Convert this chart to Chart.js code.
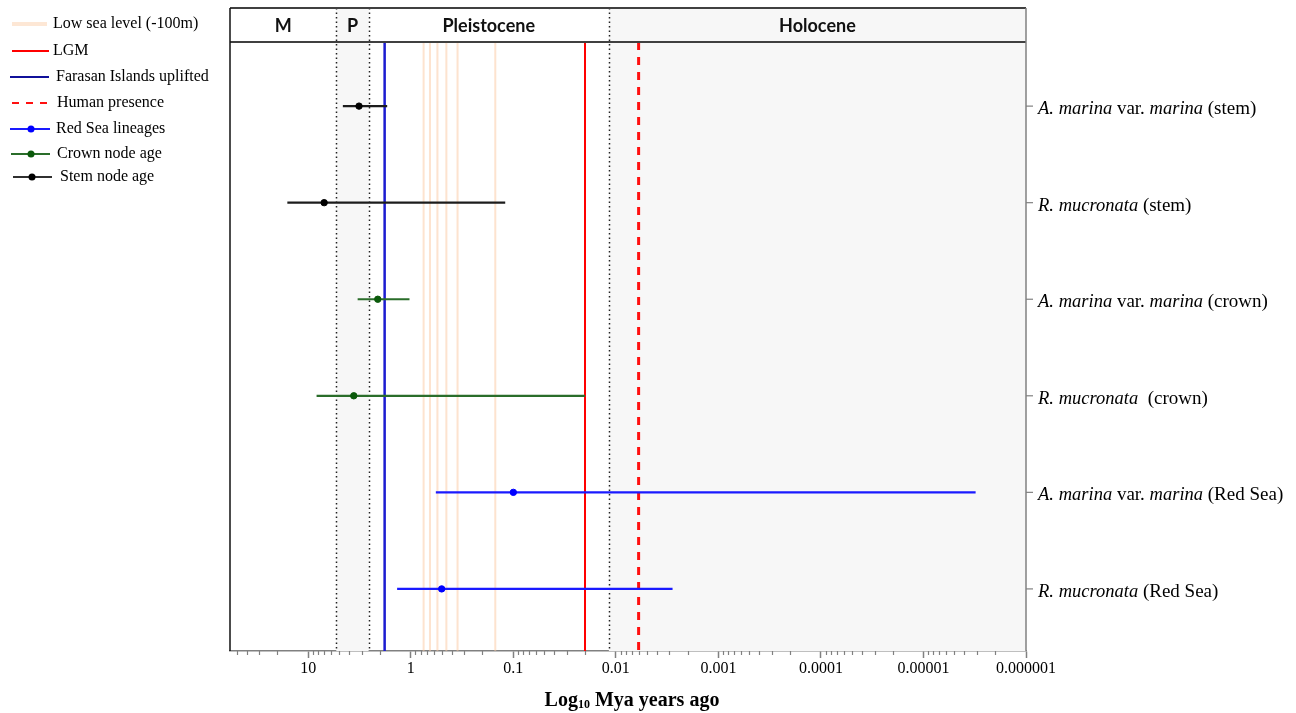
<!DOCTYPE html>
<html>
<head>
<meta charset="utf-8">
<script src="https://cdn.jsdelivr.net/npm/chart.js@4.4.1/dist/chart.umd.min.js"></script>
<style>
  html, body { margin: 0; padding: 0; background: #fff; }
</style>
</head>
<body>
<canvas id="chart" width="1296" height="713"></canvas>
<script>
(function () {
  'use strict';

  // rows, top to bottom
  var ROW_LABELS = [
    'A. marina var. marina (stem)',
    'R. mucronata (stem)',
    'A. marina var. marina (crown)',
    'R. mucronata  (crown)',
    'A. marina var. marina (Red Sea)',
    'R. mucronata (Red Sea)'
  ];
  var ROW_GROUP = ['stem', 'stem', 'crown', 'crown', 'redsea', 'redsea'];
  var ITALIC_WORDS = ['A.', 'R.', 'marina', 'mucronata'];

  // ages in Mya (mean, older bound, younger bound)
  var AGE_MEAN = [3.2, 7.0, 2.1, 3.6, 0.1, 0.5];
  var AGE_OLD = [4.6, 16, 3.3, 8.3, 0.57, 1.36];
  var AGE_YOUNG = [1.7, 0.12, 1.03, 0.02, 0.0000031, 0.0028];

  // events (Mya)
  var LOW_SEA = [0.75, 0.65, 0.55, 0.45, 0.35, 0.15];
  var LGM = 0.02;
  var FARASAN = 1.8;
  var HUMAN = 0.006;

  var EPOCHS = ['M', 'P', 'Pleistocene', 'Holocene'];
  var EPOCH_BOUNDS = [58, 5.33, 2.58, 0.0117, 0.000001];
  var SHADED_EPOCHS = ['P', 'Holocene'];

  var TICK_VALUES = [10, 1, 0.1, 0.01, 0.001, 0.0001, 0.00001, 0.000001];
  var TICK_LABELS = ['10', '1', '0.1', '0.01', '0.001', '0.0001', '0.00001', '0.000001'];

  var LEGEND_LABELS = [
    'Low sea level (-100m)', 'LGM', 'Farasan Islands uplifted', 'Human presence',
    'Red Sea lineages', 'Crown node age', 'Stem node age'
  ];

  var X_MIN = 0.000001, X_MAX = 58;
  var Y_MIN = 0.336, Y_MAX = 6.643;
  var HEADER_TOP = 8;

  var COLORS = {
    stem: { line: '#1c1c1c', dot: '#000000' },
    crown: { line: '#2a6d2a', dot: '#0b5a0b' },
    redsea: { line: '#1a1aff', dot: '#0000ff' },
    lowSea: 'rgba(251, 200, 160, 0.5)',
    lgm: '#ff0000',
    farasan: '#1c1cd0',
    human: '#ff1010',
    shade: '#f7f7f7',
    frame: '#404040'
  };

  var SERIF = '"Liberation Serif", "Times New Roman", serif';

  function vline(x, color, width, dash, order) {
    return {
      data: [{ x: x, y: Y_MIN }, { x: x, y: Y_MAX }],
      showLine: true, borderColor: color, borderWidth: width,
      borderDash: dash || [], pointRadius: 0, order: order
    };
  }

  var datasets = [];
  LOW_SEA.forEach(function (v) { datasets.push(vline(v, COLORS.lowSea, 2, null, 4)); });
  datasets.push(vline(FARASAN, COLORS.farasan, 2.5, null, 3));
  datasets.push(vline(LGM, COLORS.lgm, 2, null, 3));
  datasets.push(vline(HUMAN, COLORS.human, 3, [8, 7], 3));

  ROW_LABELS.forEach(function (_, i) {
    var c = COLORS[ROW_GROUP[i]];
    datasets.push({
      data: [{ x: AGE_OLD[i], y: i + 1 }, { x: AGE_YOUNG[i], y: i + 1 }],
      showLine: true, borderColor: c.line, borderWidth: 2.2, pointRadius: 0, order: 1
    });
  });
  datasets.push({
    data: AGE_MEAN.map(function (v, i) { return { x: v, y: i + 1 }; }),
    showLine: false,
    pointRadius: 3.2,
    pointBackgroundColor: ROW_GROUP.map(function (g) { return COLORS[g].dot; }),
    pointBorderColor: ROW_GROUP.map(function (g) { return COLORS[g].dot; }),
    order: 0
  });

  function drawRowLabel(ctx, text, x, y) {
    text.split(/( +)/).forEach(function (t) {
      if (!t) return;
      var it = ITALIC_WORDS.indexOf(t) >= 0;
      ctx.font = (it ? 'italic 18.5px ' : '19px ') + SERIF;
      ctx.fillText(t, x, y);
      x += ctx.measureText(t).width;
    });
  }

  function drawLegendSample(ctx, i, y) {
    ctx.save();
    ctx.lineCap = 'butt';
    function seg(x0, x1, color, w, dash) {
      ctx.strokeStyle = color; ctx.lineWidth = w; ctx.setLineDash(dash || []);
      ctx.beginPath(); ctx.moveTo(x0, y); ctx.lineTo(x1, y); ctx.stroke();
    }
    function dot(x, color) {
      ctx.fillStyle = color; ctx.beginPath(); ctx.arc(x, y, 3.5, 0, Math.PI * 2); ctx.fill();
    }
    if (i === 0) seg(12, 47, 'rgba(251, 215, 185, 0.6)', 4);
    if (i === 1) seg(12, 49, COLORS.lgm, 2);
    if (i === 2) seg(10, 49, '#10109a', 2.2);
    if (i === 3) seg(12, 47, COLORS.human, 2, [7, 7]);
    if (i === 4) { seg(10, 50, COLORS.redsea.line, 2); dot(31, COLORS.redsea.dot); }
    if (i === 5) { seg(11, 50, COLORS.crown.line, 2); dot(31, COLORS.crown.dot); }
    if (i === 6) { seg(13, 52, '#303030', 2); dot(32, COLORS.stem.dot); }
    ctx.restore();
  }

  var LEGEND_Y = [24, 51, 77, 103, 129, 154, 177];
  var LEGEND_TX = [53, 53, 56, 57, 56, 57, 60];

  var decorPlugin = {
    id: 'decor',
    beforeDatasetsDraw: function (chart) {
      var ctx = chart.ctx, a = chart.chartArea, xs = chart.scales.x;
      ctx.save();
      // shaded epochs
      EPOCHS.forEach(function (name, i) {
        if (SHADED_EPOCHS.indexOf(name) < 0) return;
        var x0 = xs.getPixelForValue(EPOCH_BOUNDS[i]);
        var x1 = xs.getPixelForValue(EPOCH_BOUNDS[i + 1]);
        ctx.fillStyle = COLORS.shade;
        ctx.fillRect(Math.min(x0, x1), HEADER_TOP, Math.abs(x1 - x0), a.bottom - HEADER_TOP);
      });
      // epoch boundaries, dotted
      ctx.strokeStyle = '#222';
      ctx.lineWidth = 1.5;
      ctx.setLineDash([1.5, 3]);
      for (var i = 1; i < EPOCH_BOUNDS.length - 1; i++) {
        var x = Math.round(xs.getPixelForValue(EPOCH_BOUNDS[i])) + 0.5;
        ctx.beginPath(); ctx.moveTo(x, HEADER_TOP); ctx.lineTo(x, a.bottom); ctx.stroke();
      }
      ctx.restore();
    },
    afterDraw: function (chart) {
      var ctx = chart.ctx, a = chart.chartArea, xs = chart.scales.x, ys = chart.scales.y;
      ctx.save();

      // header text
      ctx.fillStyle = '#111';
      ctx.font = 'bold 18px Lato, "Liberation Sans", sans-serif';
      ctx.textAlign = 'center';
      ctx.textBaseline = 'middle';
      EPOCHS.forEach(function (name, i) {
        var x0 = xs.getPixelForValue(EPOCH_BOUNDS[i]);
        var x1 = xs.getPixelForValue(EPOCH_BOUNDS[i + 1]);
        ctx.fillText(name, (x0 + x1) / 2, 26);
      });

      // frame
      ctx.strokeStyle = COLORS.frame;
      ctx.lineWidth = 2;
      ctx.beginPath();
      ctx.moveTo(a.left, HEADER_TOP); ctx.lineTo(a.right, HEADER_TOP);
      ctx.moveTo(a.left, a.top); ctx.lineTo(a.right, a.top);
      ctx.stroke();
      ctx.strokeStyle = '#111';
      ctx.lineWidth = 1.5;
      ctx.beginPath(); ctx.moveTo(a.left, HEADER_TOP); ctx.lineTo(a.left, a.bottom); ctx.stroke();
      ctx.strokeStyle = '#808080';
      ctx.beginPath(); ctx.moveTo(a.right, HEADER_TOP); ctx.lineTo(a.right, a.bottom); ctx.stroke();

      // minor ticks on the log axis
      ctx.lineWidth = 1.2;
      for (var e = -6; e <= 1; e++) {
        for (var m = 2; m <= 9; m++) {
          var v = m * Math.pow(10, e);
          if (v > X_MAX || v < X_MIN) continue;
          var px = Math.round(xs.getPixelForValue(v)) + 0.5;
          ctx.beginPath(); ctx.moveTo(px, a.bottom); ctx.lineTo(px, a.bottom + 4); ctx.stroke();
        }
      }

      // right-side row labels with ticks
      ctx.textAlign = 'left';
      ctx.textBaseline = 'alphabetic';
      ctx.fillStyle = '#000';
      ROW_LABELS.forEach(function (label, i) {
        var y = ys.getPixelForValue(i + 1);
        ctx.strokeStyle = '#808080';
        ctx.lineWidth = 1.2;
        ctx.beginPath(); ctx.moveTo(a.right, y); ctx.lineTo(a.right + 7, y); ctx.stroke();
        drawRowLabel(ctx, label, a.right + 12, y + 8);
      });

      // x axis title with subscript
      var parts = [['Log', 'bold 20px '], ['10', 'bold 12px '], [' Mya years ago', 'bold 20px ']];
      var total = 0;
      parts.forEach(function (p) { ctx.font = p[1] + SERIF; total += ctx.measureText(p[0]).width; });
      var tx = (a.left + a.right) / 2 + 4 - total / 2;
      parts.forEach(function (p, k) {
        ctx.font = p[1] + SERIF;
        ctx.fillText(p[0], tx, k === 1 ? 708 : 706);
        tx += ctx.measureText(p[0]).width;
      });

      // legend
      ctx.textBaseline = 'middle';
      LEGEND_LABELS.forEach(function (label, i) {
        drawLegendSample(ctx, i, LEGEND_Y[i]);
        ctx.fillStyle = '#000';
        ctx.font = '16px ' + SERIF;
        ctx.fillText(label, LEGEND_TX[i], LEGEND_Y[i]);
      });

      ctx.restore();
    }
  };

  new Chart(document.getElementById('chart'), {
    type: 'scatter',
    data: { datasets: datasets },
    plugins: [decorPlugin],
    options: {
      responsive: false,
      animation: false,
      layout: { padding: { left: 230, right: 270, top: 42, bottom: 0 } },
      plugins: { legend: { display: false }, tooltip: { enabled: false } },
      scales: {
        x: {
          type: 'logarithmic',
          reverse: true,
          min: X_MIN,
          max: X_MAX,
          afterBuildTicks: function (scale) {
            scale.ticks = TICK_VALUES.map(function (v) { return { value: v }; });
          },
          afterFit: function (scale) { scale.height = 62; },
          grid: { drawOnChartArea: false, tickLength: 7, tickColor: '#808080', tickWidth: 1.5 },
          border: { color: '#808080', width: 1.5 },
          ticks: {
            autoSkip: false,
            maxRotation: 0,
            padding: 1,
            color: '#000',
            font: { family: 'Liberation Serif', size: 16 },
            callback: function (v) {
              var i = TICK_VALUES.indexOf(v);
              return i >= 0 ? TICK_LABELS[i] : '';
            }
          }
        },
        y: {
          type: 'linear',
          reverse: true,
          min: Y_MIN,
          max: Y_MAX,
          display: false
        }
      }
    }
  });
})();
</script>
</body>
</html>
